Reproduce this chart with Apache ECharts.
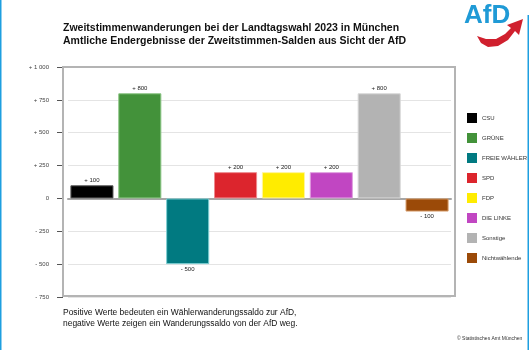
<!DOCTYPE html>
<html><head><meta charset="utf-8">
<script src="https://cdn.jsdelivr.net/npm/echarts@6/dist/echarts.min.js"></script>
<style>html,body{margin:0;padding:0;background:#fff}#c{width:530px;height:350px}</style>
</head><body><div id="c"></div>
<script>
const categories = ['CSU','GRÜNE','FREIE WÄHLER','SPD','FDP','DIE LINKE','Sonstige','Nichtwählende'];
const values = [100, 800, -500, 200, 200, 200, 800, -100];
const colors = ['#000000','#43923a','#017a81','#dc252d','#ffec00','#c146c2','#b3b3b3','#9b4a08'];
const borders = ['#5a5a5a','#8cc585','#7fd0d4','#ee8a8f','#fff59a','#e0a0e0','#d8d8d8','#d8a070'];
const yTicks = [-750, -500, -250, 0, 250, 500, 750, 1000];

function fmt(v){
  const a = Math.abs(v);
  const s = a >= 1000 ? String(a).replace(/\B(?=(\d{3})+(?!\d))/g,' ') : String(a);
  if (v > 0) return '+ ' + s;
  if (v < 0) return '- ' + s;
  return '0';
}

const chart = echarts.init(document.getElementById('c'));
const series = categories.map((name, i) => ({
  name, type: 'bar', stack: 'all', barCategoryGap: '10%',
  itemStyle: { color: colors[i], borderColor: borders[i], borderWidth: 1 },
  label: { show: true, position: values[i] >= 0 ? 'top' : 'bottom', distance: 2,
    fontSize: 6, color: '#222', fontFamily: 'Liberation Sans',
    formatter: p => fmt(p.value) },
  data: categories.map((c, j) => j === i ? values[i] : '-')
}));

chart.setOption({
  animation: false,
  textStyle: { fontFamily: 'Liberation Sans' },
  title: {
    text: 'Zweitstimmenwanderungen bei der Landtagswahl 2023 in München\nAmtliche Endergebnisse der Zweitstimmen-Salden aus Sicht der AfD',
    left: 63, top: 21, padding: 0,
    textStyle: { fontSize: 10.5, fontWeight: 'bold', color: '#111', lineHeight: 13.5, fontFamily: 'Liberation Sans' }
  },
  legend: {
    orient: 'vertical', left: 467, top: 113, padding: 0, itemWidth: 10, itemHeight: 10, itemGap: 10,
    icon: 'rect', data: categories,
    itemStyle: { borderWidth: 0 },
    textStyle: { fontSize: 6, lineHeight: 10, color: '#333', fontFamily: 'Liberation Sans' }
  },
  grid: { left: 68, right: 79, top: 67, bottom: 53 },
  xAxis: {
    type: 'category', data: categories,
    axisLine: { onZero: true, lineStyle: { color: '#a6a6a6', width: 2 } },
    axisTick: { show: false }, axisLabel: { show: false }
  },
  yAxis: {
    type: 'value', min: -750, max: 1000, interval: 250, offset: 5,
    axisLine: { show: false },
    axisTick: { show: true, length: 6, lineStyle: { color: '#555' } },
    axisLabel: { fontSize: 6, color: '#444', margin: 14, formatter: fmt },
    splitLine: { lineStyle: { color: '#e4e4e4', width: 1 } }
  },
  series,
  graphic: [
    { type: 'rect', shape: { x: 63, y: 67, width: 392, height: 229 }, style: { fill: 'none', stroke: '#b4b4b4', lineWidth: 2 }, silent: true, z: 5 },
    { type: 'text', x: 63, y: 307, style: { text: 'Positive Werte bedeuten ein Wählerwanderungssaldo zur AfD,\nnegative Werte zeigen ein Wanderungssaldo von der AfD weg.', fontSize: 8.45, lineHeight: 11, fill: '#111', fontFamily: 'Liberation Sans' } },
    { type: 'text', x: 457, y: 336, style: { text: '© Statistisches Amt München', fontSize: 5, fill: '#333', fontFamily: 'Liberation Sans' } },
    { type: 'rect', shape: { x: 0, y: 0, width: 1.5, height: 350 }, style: { fill: '#1e9fe0' } },
    { type: 'rect', shape: { x: 527.5, y: 15, width: 1.5, height: 335 }, style: { fill: '#1e9fe0' } },
    { type: 'text', x: 464, y: 3, style: { text: 'AfD', fontSize: 26, fontWeight: 'bold', fill: '#1f9ad6', fontFamily: 'Liberation Sans' } },
    { type: 'polygon', shape: { points: [[477,36],[486,39],[496,39],[505,34],[511,28],[507,25],[523,19],[519,35],[515,31],[508,40],[498,46],[488,47],[481,43]] }, style: { fill: '#d0202e' } }
  ]
});
</script></body></html>
